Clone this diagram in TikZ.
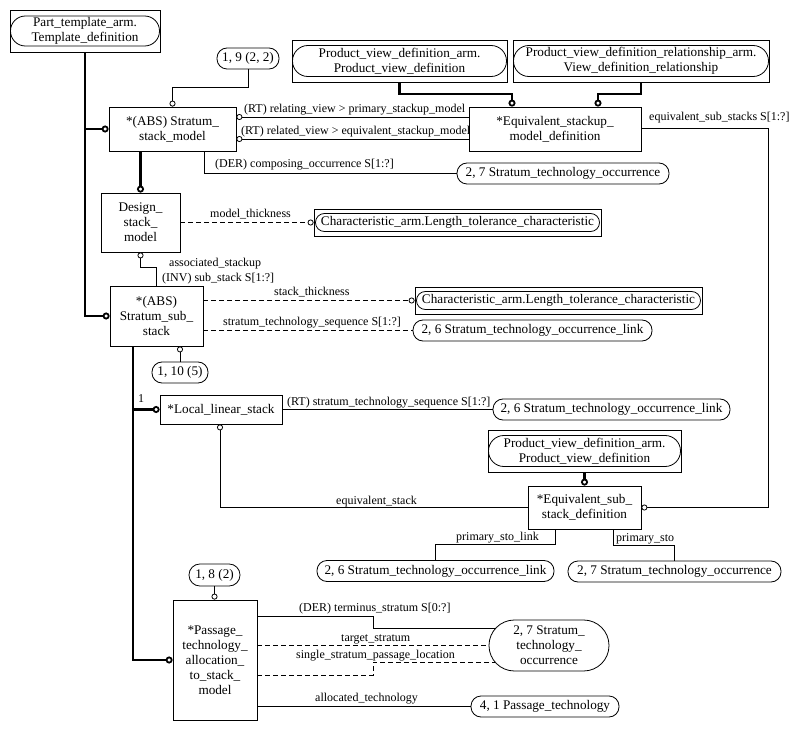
\documentclass[tikz,border=0pt]{standalone}
\usepackage{fontspec}
\setmainfont{Liberation Serif}
\usetikzlibrary{arrows.meta,calc}
\begin{document}
\begin{tikzpicture}[x=1pt,y=-1pt,
  box/.style={draw,line width=0.8pt,rectangle,inner sep=0pt,align=center,font=\fontsize{13.2}{15}\selectfont},
  pill/.style={box,rounded corners=#1},
  pill/.default=10pt,
  lbl/.style={inner sep=0pt,anchor=base west,font=\fontsize{12}{14}\selectfont},
  rel/.style={line width=0.8pt},
  trel/.style={line width=2.2pt},
  oc/.style={-{Circle[fill=white,length=6pt,width=6pt,line width=0.8pt]}},
  toc/.style={-{Circle[fill=white,length=7pt,width=7pt,line width=1.8pt]}},
  dashrel/.style={dash pattern=on 5pt off 3pt}
]
\fill[white] (0,0) rectangle (801,730);
\useasboundingbox (0,0) rectangle (801,730);

% nodes
\node[box,minimum width=150,minimum height=42] (ptdbox) at (85,31) {};
\node[pill=14.9pt,minimum width=149,minimum height=30] (ptd) at (85,31) {Part\_template\_arm.\\Template\_definition};
\node[pill,minimum width=62,minimum height=21] (p922) at (248,58.5) {1, 9 (2, 2)};
\node[box,minimum width=127,minimum height=44] (ssm) at (172.5,129) {*(ABS) Stratum\_\\stack\_model};
\node[box,minimum width=172,minimum height=44] (esmd) at (555,129) {*Equivalent\_stackup\_\\model\_definition};
\node[box,minimum width=215,minimum height=42] (pvd1box) at (399.5,61) {};
\node[pill=15.4pt,minimum width=214,minimum height=31] (pvd1) at (399.5,61) {Product\_view\_definition\_arm.\\Product\_view\_definition};
\node[box,minimum width=256,minimum height=42] (pvdrbox) at (641,61) {};
\node[pill=15.4pt,minimum width=255,minimum height=31] (pvdr) at (641,61) {Product\_view\_definition\_relationship\_arm.\\View\_definition\_relationship};
\node[pill,minimum width=212,minimum height=21] (sto1) at (563,173.5) {2, 7 Stratum\_technology\_occurrence};
\node[box,minimum width=79,minimum height=59] (dsm) at (140.5,222.5) {Design\_\\stack\_\\model};
\node[box,minimum width=287,minimum height=27] (ltc1box) at (457.5,222.5) {};
\node[pill=8.9pt,minimum width=284,minimum height=18] (ltc1) at (457.5,222.5) {Characteristic\_arm.Length\_tolerance\_characteristic};
\node[box,minimum width=93,minimum height=60] (sss) at (156.5,316) {*(ABS)\\Stratum\_sub\_\\stack};
\node[box,minimum width=287,minimum height=27] (ltc2box) at (558.5,300.5) {};
\node[pill=8.9pt,minimum width=284,minimum height=18] (ltc2) at (558.5,300.5) {Characteristic\_arm.Length\_tolerance\_characteristic};
\node[pill,minimum width=239,minimum height=21] (stol1) at (532.5,330.5) {2, 6 Stratum\_technology\_occurrence\_link};
\node[pill,minimum width=56,minimum height=21] (p1105) at (180,372.5) {1, 10 (5)};
\node[box,minimum width=122,minimum height=29] (lls) at (221,409.5) {*Local\_linear\_stack};
\node[pill,minimum width=237,minimum height=21] (stol2) at (611.5,409.5) {2, 6 Stratum\_technology\_occurrence\_link};
\node[box,minimum width=193,minimum height=42] (pvd2box) at (584.5,451) {};
\node[pill=15.4pt,minimum width=192,minimum height=31] (pvd2) at (584.5,451) {Product\_view\_definition\_arm.\\Product\_view\_definition};
\node[box,minimum width=113,minimum height=43] (essd) at (584.5,507.5) {*Equivalent\_sub\_\\stack\_definition};
\node[pill,minimum width=237,minimum height=21] (stol3) at (435.5,571) {2, 6 Stratum\_technology\_occurrence\_link};
\node[pill,minimum width=213,minimum height=21] (sto2) at (674.5,571.5) {2, 7 Stratum\_technology\_occurrence};
\node[pill=10.9pt,minimum width=51,minimum height=22] (p182) at (214.5,575) {1, 8 (2)};
\node[box,minimum width=84,minimum height=120] (ptasm) at (215,660) {*Passage\_\\technology\_\\allocation\_\\to\_stack\_\\model};
\node[pill=25.4pt,minimum width=120,minimum height=51] (sto3) at (549,645.5) {2, 7 Stratum\_\\technology\_\\occurrence};
\node[pill,minimum width=148,minimum height=21] (pt) at (545,706.5) {4, 1 Passage\_technology};
\coordinate (spine) at (133,346);
\coordinate (rcorner) at (768,128);

% connectors
\draw[trel,toc] (ptdbox.south) |- (sss.west);
\draw[trel,toc] (ptdbox.south |- ssm.west) -- (ssm.west);
\draw[rel,oc] (p922.south) -- ++(0,18) -| (ssm.north);
\draw[trel,toc] (dsm.north |- ssm.south) -- (dsm.north);
\draw[rel,oc] (esmd.west |- 0,117) -- (ssm.east |- 0,117);
\draw[rel,oc] (esmd.west |- 0,139) -- (ssm.east |- 0,139);
\draw[rel] (ssm.south -| 204,0) |- (sto1.west);
\draw[trel,toc] (pvd1box.south) -- ++(0,12) -| (esmd.north -| 512,0);
\draw[trel,toc] (pvdrbox.south) -- ++(0,12) -| (esmd.north -| 598,0);
\draw[rel,oc] (esmd.east |- rcorner) -- (rcorner) |- (essd.east);
\draw[rel,oc] (sss.north) -- ++(0,-18) -| (dsm.south);
\draw[rel,dashrel,oc] (dsm.east) -- (ltc1box.west);
\draw[rel,dashrel,oc] (sss.east |- ltc2box.west) -- (ltc2box.west);
\draw[rel,dashrel] (sss.east |- stol1.west) -- (stol1.west);
\draw[rel,oc] (p1105.north) -- (p1105.north |- sss.south);
\draw[trel,toc] (spine) |- (ptasm.west);
\draw[trel,toc] (spine |- lls.west) -- (lls.west);
\draw[rel] (lls.east) -- (stol2.west);
\draw[rel,oc] (essd.west) -| (lls.south -| 220,0);
\draw[trel,toc] (pvd2box.south) -- (essd.north);
\draw[rel] (essd.south -| 555,0) -- ++(0,15) -| (stol3.north);
\draw[rel] (essd.south -| 613,0) -- ++(0,16) -| (sto2.north);
\draw[rel,oc] (p182.south) -- (p182.south |- ptasm.north);
\draw[rel] (ptasm.east |- 0,616) -- (373,616) |- ($(sto3.west)+(7,-17.5)$);
\draw[rel,dashrel] (ptasm.east |- sto3.west) -- (sto3.west);
\draw[rel,dashrel] (ptasm.east |- 0,675) -- (373,675) |- ($(sto3.west)+(6,16.5)$);
\draw[rel] (ptasm.east |- pt.west) -- (pt.west);

% labels
\node[lbl] (l1) at (244,113) {(RT) relating\_view > primary\_stackup\_model};
\node[lbl] (l2) at (241,135) {(RT) related\_view > equivalent\_stackup\_model};
\node[lbl] (l3) at (215,168) {(DER) composing\_occurrence S[1:?]};
\node[lbl] (l4) at (649,121) {equivalent\_sub\_stacks S[1:?]};
\node[lbl] (l5) at (210,218) {model\_thickness};
\node[lbl] (l6) at (169,267) {associated\_stackup};
\node[lbl] (l7) at (162,282) {(INV) sub\_stack S[1:?]};
\node[lbl] (l8) at (274,296) {stack\_thickness};
\node[lbl] (l9) at (223,326) {stratum\_technology\_sequence S[1:?]};
\node[lbl] (l10) at (138,402) {1};
\node[lbl] (l11) at (287,405) {(RT) stratum\_technology\_sequence S[1:?]};
\node[lbl] (l12) at (336,504) {equivalent\_stack};
\node[lbl] (l13) at (456,540) {primary\_sto\_link};
\node[lbl] (l14) at (616,541) {primary\_sto};
\node[lbl] (l15) at (299,611) {(DER) terminus\_stratum S[0:?]};
\node[lbl] (l16) at (341,641) {target\_stratum};
\node[lbl] (l17) at (296,658) {single\_stratum\_passage\_location};
\node[lbl] (l18) at (315,701) {allocated\_technology};
\end{tikzpicture}
\end{document}
